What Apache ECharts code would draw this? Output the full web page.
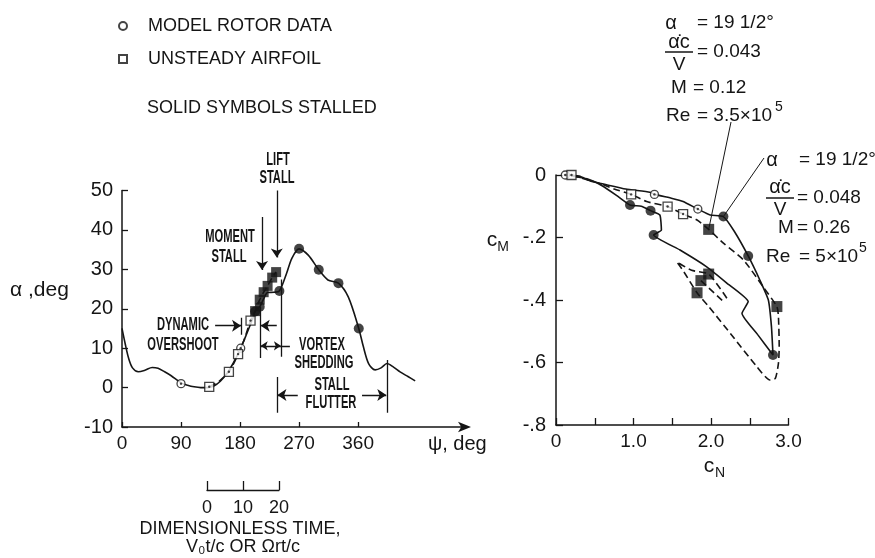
<!DOCTYPE html>
<html>
<head>
<meta charset="utf-8">
<script src="https://cdn.jsdelivr.net/npm/echarts@6/dist/echarts.min.js"></script>
<style>
  html, body { margin: 0; padding: 0; background: #fff; }
  #chart { width: 875px; height: 558px; }
</style>
</head>
<body>
<div id="chart"></div>
<script>
// ---------- Left panel: blade angle of attack vs azimuth ----------
const psiTicks = [0, 90, 180, 270, 360];

// model rotor trace (solid)
const rotorPsi   = [0,5,10,16,25,35,46,55,65,75,90,100,110,120,130,140,150,160,170,181,190,200,203,210,216,222,232,240,251,259,270,284,300,314,330,345,361,368,376,386,395,404,414,424,436,447];
const rotorAlpha = [15,11,7.5,5,4,4.4,5.1,4.9,4,3,1.2,0.6,0.2,0,0,0.4,1.6,3.6,6.3,10,13.6,17.8,19.3,20.5,22.5,24.1,24.2,24.5,29,32.8,35.2,33.6,29.9,27.3,26.5,23,15,10.4,6.1,4.5,5,6.1,5.2,4,2.8,1.7];

// unsteady airfoil trace (dashed)
const airfoilPsi   = [133,148,163,170,177,186,196,203,210,216,222,229,235];
const airfoilAlpha = [0.2,1.6,4,6,8.5,12,17,19.4,22.3,24.2,25.8,27.9,29.3];

// symbols
const rotorOpenPsi     = [90, 181];
const rotorOpenAlpha   = [1, 10];
const rotorStallPsi    = [203, 210, 240, 270, 300, 330, 361];
const rotorStallAlpha  = [19.3, 20.5, 24.5, 35.2, 29.9, 26.5, 15];
const airfoilOpenPsi   = [133, 163, 177, 196];
const airfoilOpenAlpha = [0.2, 4, 8.5, 17];
const airfoilStallPsi  = [203, 210, 216, 222, 229, 235];
const airfoilStallAlpha= [19.4, 22.3, 24.2, 25.8, 27.9, 29.3];

// ---------- Right panel: moment vs normal force loops ----------
const rotorLoopCN = [0.1,0.3,0.45,0.61,0.9,1.21,1.27,1.5,1.64,1.83,1.99,2.16,2.3,2.48,2.63,2.74,2.78,2.80,2.6,2.40,2.48,2.2,1.94,1.6,1.26,1.36,1.34,1.22,1.1,0.955,0.78,0.6,0.4,0.2];
const rotorLoopCM = [0,-0.003,-0.02,-0.029,-0.045,-0.055,-0.062,-0.075,-0.085,-0.109,-0.128,-0.133,-0.18,-0.259,-0.336,-0.40,-0.485,-0.576,-0.51,-0.443,-0.405,-0.345,-0.293,-0.24,-0.192,-0.176,-0.128,-0.114,-0.10,-0.096,-0.065,-0.035,-0.012,-0.003];

const airfoilLoopCN = [0.2,0.4,0.57,0.75,0.97,1.17,1.44,1.64,1.82,1.97,2.16,2.42,2.67,2.85,2.87,2.88,2.87,2.83,2.76,2.59,2.25,1.97,1.82,1.65,1.56,1.75,1.97,2.22];
const airfoilLoopCM = [0,-0.015,-0.027,-0.045,-0.062,-0.085,-0.101,-0.125,-0.144,-0.174,-0.218,-0.272,-0.357,-0.421,-0.453,-0.549,-0.603,-0.651,-0.656,-0.613,-0.507,-0.421,-0.377,-0.31,-0.278,-0.305,-0.317,-0.40];
const airfoilInnerCN = [1.87, 2.16];
const airfoilInnerCM = [-0.338, -0.405];

const rotorOpenCN    = [0.12, 1.27, 1.83];
const rotorOpenCM    = [0, -0.062, -0.109];
const rotorStallCN   = [0.955, 1.22, 1.26, 2.16, 2.48, 2.80];
const rotorStallCM   = [-0.096, -0.114, -0.192, -0.133, -0.259, -0.576];
const airfoilOpenCN  = [0.2, 0.97, 1.44, 1.64];
const airfoilOpenCM  = [0, -0.062, -0.101, -0.125];
const airfoilStallCN = [1.97, 2.85, 1.97, 1.87, 1.82];
const airfoilStallCM = [-0.174, -0.421, -0.317, -0.338, -0.377];

// time scale bracket
const timeTicks = [0, 10, 20];

// ---------------------------------------------------------------
const INK = '#151515';
const FONT = 'Liberation Sans, Arial, sans-serif';
const zip = (a, b) => a.map((v, i) => [v, b[i]]);

const chart = echarts.init(document.getElementById('chart'), null, { renderer: 'canvas' });

function curve(name, xs, ys, gi, dashed, smooth) {
  return {
    name, type: 'line', xAxisIndex: gi, yAxisIndex: gi,
    data: zip(xs, ys), symbol: 'none', smooth: smooth, clip: false,
    lineStyle: { color: INK, width: 1.6, type: dashed ? [7, 4] : 'solid' },
    silent: true, z: 3
  };
}
function marks(name, xs, ys, gi, shape, filled, size) {
  return {
    name, type: 'scatter', xAxisIndex: gi, yAxisIndex: gi,
    data: zip(xs, ys), symbol: shape, symbolSize: size, clip: false,
    itemStyle: filled ? { color: INK } : { color: '#fff', borderColor: INK, borderWidth: 1.3 },
    silent: true, z: 5
  };
}
function centerDots(xs, ys, gi) {
  return {
    type: 'scatter', xAxisIndex: gi, yAxisIndex: gi, data: zip(xs, ys),
    symbol: 'circle', symbolSize: 2.4, clip: false, itemStyle: { color: INK }, silent: true, z: 6
  };
}
function segs(list, ends, size) {
  return {
    type: 'lines', coordinateSystem: 'cartesian2d', xAxisIndex: 0, yAxisIndex: 0,
    symbol: ends, symbolSize: size || 9,
    lineStyle: { color: INK, width: 1.3, opacity: 1, curveness: 0 },
    data: list.map(c => ({ coords: c })), silent: true, z: 4
  };
}

const axisText = { color: INK, fontFamily: FONT, fontSize: 19 };

const option = {
  backgroundColor: '#fff',
  animation: false,
  legend: {
    data: ['MODEL ROTOR DATA', 'UNSTEADY AIRFOIL'],
    orient: 'vertical', left: 113, top: 12,
    itemWidth: 8, itemHeight: 8, itemGap: 15,
    textStyle: { color: INK, fontFamily: FONT, fontSize: 18, padding: [0, 0, 0, 16] },
    selectedMode: false
  },
  grid: [
    { left: 122, top: 190.5, width: 343, height: 236.5 },
    { left: 556, top: 175, width: 232.5, height: 250 },
    { left: 207, top: 470, width: 72, height: 20 }
  ],
  xAxis: [
    {
      gridIndex: 0, type: 'value', min: 0, max: 523,
      axisLine: { show: true, onZero: false, symbol: ['none', 'arrow'], symbolSize: [8, 13], symbolOffset: [0, 6], lineStyle: { color: INK, width: 1.5 } },
      axisTick: { show: true, inside: true, length: 5, customValues: psiTicks, lineStyle: { color: INK, width: 1.3 } },
      axisLabel: { customValues: psiTicks, margin: 7, ...axisText },
      splitLine: { show: false }
    },
    {
      gridIndex: 1, type: 'value', min: 0, max: 3, interval: 0.5,
      axisLine: { show: true, onZero: false, lineStyle: { color: INK, width: 1.5 } },
      axisTick: { show: true, inside: true, length: 7, lineStyle: { color: INK, width: 1.3 } },
      axisLabel: {
        margin: 7, ...axisText, showMaxLabel: true,
        formatter: v => (Math.abs(v) < 1e-9 ? '0' : (Math.abs(v - Math.round(v)) < 1e-9 ? v.toFixed(1) : ''))
      },
      splitLine: { show: false }
    },
    {
      gridIndex: 2, type: 'value', min: 0, max: 20, interval: 10,
      axisLine: { show: true, onZero: false, lineStyle: { color: INK, width: 1.3 } },
      axisTick: { show: true, inside: true, length: 9, customValues: timeTicks, lineStyle: { color: INK, width: 1.3 } },
      axisLabel: { customValues: timeTicks, margin: 9, ...axisText, fontSize: 18 },
      splitLine: { show: false }
    }
  ],
  yAxis: [
    {
      gridIndex: 0, type: 'value', min: -10, max: 50, interval: 10,
      axisLine: { show: true, onZero: false, lineStyle: { color: INK, width: 1.5 } },
      axisTick: { show: true, inside: true, length: 6, lineStyle: { color: INK, width: 1.3 } },
      axisLabel: { margin: 9, ...axisText, fontSize: 20 },
      splitLine: { show: false }
    },
    {
      gridIndex: 1, type: 'value', min: -0.8, max: 0, interval: 0.2,
      axisLine: { show: true, onZero: false, lineStyle: { color: INK, width: 1.5 } },
      axisTick: { show: true, inside: true, length: 7, lineStyle: { color: INK, width: 1.3 } },
      axisLabel: {
        margin: 10, ...axisText, fontSize: 20,
        formatter: v => (Math.abs(v) < 1e-9 ? '0' : '-' + Math.abs(v).toFixed(1).replace(/^0/, ''))
      },
      splitLine: { show: false }
    },
    { gridIndex: 2, type: 'value', min: 0, max: 1, show: false }
  ],
  series: [
    // left panel
    curve('rotor trace', rotorPsi, rotorAlpha, 0, false, 0.3),
    curve('airfoil trace', airfoilPsi, airfoilAlpha, 0, true, 0.2),
    marks('MODEL ROTOR DATA', rotorOpenPsi, rotorOpenAlpha, 0, 'circle', false, 8),
    centerDots(rotorOpenPsi, rotorOpenAlpha, 0),
    marks('UNSTEADY AIRFOIL', airfoilOpenPsi, airfoilOpenAlpha, 0, 'rect', false, 9),
    centerDots(airfoilOpenPsi, airfoilOpenAlpha, 0),
    marks('rotor stalled', rotorStallPsi, rotorStallAlpha, 0, 'circle', true, 10),
    marks('airfoil stalled', airfoilStallPsi, airfoilStallAlpha, 0, 'rect', true, 10),
    // stall annotations (arrows and brackets in ψ, α units)
    segs([
      [[236, 50], [236, 33]],
      [[213.5, 43.3], [213.5, 29.8]],
      [[142, 15.7], [181.5, 15.7]],
      [[236, 15.7], [211.5, 15.7]],
      [[268, -1.9], [237, -1.9]],
      [[366, -1.9], [403, -1.9]]
    ], ['none', 'arrow'], 9),
    segs([[[211.5, 10.6], [242.3, 10.6]]], ['arrow', 'arrow'], 7),
    segs([
      [[182.3, 17.7], [182.3, 13.4]],
      [[210.5, 20.5], [210.5, 7.5]],
      [[243.3, 27.4], [243.3, 7.8]],
      [[243.3, 10.6], [256, 10.6]],
      [[236, 2.7], [236, -6.4]],
      [[404, 7], [404, -6.4]]
    ], 'none'),
    // right panel
    curve('rotor loop', rotorLoopCN, rotorLoopCM, 1, false, 0.15),
    curve('airfoil loop', airfoilLoopCN, airfoilLoopCM, 1, true, 0.2),
    curve('airfoil inner', airfoilInnerCN, airfoilInnerCM, 1, true, false),
    marks('rotor open r', rotorOpenCN, rotorOpenCM, 1, 'circle', false, 8),
    centerDots(rotorOpenCN, rotorOpenCM, 1),
    marks('airfoil open r', airfoilOpenCN, airfoilOpenCM, 1, 'rect', false, 9),
    centerDots(airfoilOpenCN, airfoilOpenCM, 1),
    marks('rotor stalled r', rotorStallCN, rotorStallCM, 1, 'circle', true, 10),
    marks('airfoil stalled r', airfoilStallCN, airfoilStallCM, 1, 'rect', true, 11)
  ]
};

chart.setOption(option);

// ---------- text and leader lines ----------
function t(x, y, s, o) {
  o = o || {};
  const el = {
    type: 'text', x: x, y: y, silent: true, z: 10,
    style: {
      text: s, x: 0, y: 0,
      font: (o.weight || 'normal') + ' ' + (o.size || 18) + 'px ' + (o.family || FONT),
      fill: INK,
      align: o.align || 'left', textAlign: o.align || 'left',
      verticalAlign: 'middle', textVerticalAlign: 'middle'
    }
  };
  if (o.sx) { el.scaleX = o.sx; }
  return el;
}
const cond = (x, y, s) => t(x, y, s, { align: 'center', sx: 0.62, weight: 'bold', size: 18 });

const gfx = [
  t(147, 108, 'SOLID SYMBOLS STALLED'),
  t(10, 290, 'α ,deg', { size: 21 }),
  t(428, 444, 'ψ, deg', { size: 20 }),
  cond(278, 160, 'LIFT'), cond(277, 178, 'STALL'),
  cond(230, 237, 'MOMENT'), cond(229, 257, 'STALL'),
  cond(183, 325, 'DYNAMIC'), cond(183, 345, 'OVERSHOOT'),
  cond(322, 345, 'VORTEX'), cond(324, 363, 'SHEDDING'),
  cond(332, 385, 'STALL'), cond(331, 403, 'FLUTTER'),
  t(240, 529, 'DIMENSIONLESS TIME,', { align: 'center' }),
  t(243, 547, 'V₀t/c OR Ωrt/c', { align: 'center' }),
  // c_M and c_N
  t(492, 240, 'c', { align: 'center', size: 21 }), t(503, 247, 'M', { align: 'center', size: 14 }),
  t(709, 466, 'c', { align: 'center', size: 21 }), t(720, 473, 'N', { align: 'center', size: 14 }),
  // test condition block, airfoil
  t(671, 23, 'α', { align: 'center', size: 20 }), t(697, 23, '= 19 1/2°', { size: 19 }),
  t(679, 42, 'α̇c', { align: 'center', size: 20 }),
  { type: 'line', silent: true, shape: { x1: 665, y1: 52, x2: 693, y2: 52 }, style: { stroke: INK, lineWidth: 1.5 } },
  t(679, 65, 'V', { align: 'center', size: 19 }), t(697, 52, '= 0.043', { size: 19 }),
  t(679, 88, 'M', { align: 'center', size: 19 }), t(693, 88, '= 0.12', { size: 19 }),
  t(666, 116, 'Re', { size: 19 }), t(697, 116, '= 3.5×10', { size: 19 }), t(775, 107, '5', { size: 14 }),
  // test condition block, model rotor
  t(772, 160, 'α', { align: 'center', size: 20 }), t(799, 160, '= 19 1/2°', { size: 19 }),
  t(780, 187, 'α̇c', { align: 'center', size: 20 }),
  { type: 'line', silent: true, shape: { x1: 766, y1: 198, x2: 794, y2: 198 }, style: { stroke: INK, lineWidth: 1.5 } },
  t(780, 210, 'V', { align: 'center', size: 19 }), t(797, 198, '= 0.048', { size: 19 }),
  t(786, 228, 'M', { align: 'center', size: 19 }), t(797, 228, '= 0.26', { size: 19 }),
  t(766, 257, 'Re', { size: 19 }), t(799, 257, '= 5×10', { size: 19 }), t(859, 248, '5', { size: 14 })
];

// leader lines from the labelled points to their condition blocks
const pAirfoil = chart.convertToPixel({ gridIndex: 1 }, [airfoilStallCN[0], airfoilStallCM[0]]);
const pRotor = chart.convertToPixel({ gridIndex: 1 }, [rotorStallCN[3], rotorStallCM[3]]);
gfx.push({ type: 'line', silent: true, z: 4, shape: { x1: pAirfoil[0], y1: pAirfoil[1], x2: 731, y2: 122 }, style: { stroke: INK, lineWidth: 1 } });
gfx.push({ type: 'line', silent: true, z: 4, shape: { x1: pRotor[0], y1: pRotor[1], x2: 764, y2: 158 }, style: { stroke: INK, lineWidth: 1 } });

chart.setOption({ graphic: gfx });
</script>
</body>
</html>
